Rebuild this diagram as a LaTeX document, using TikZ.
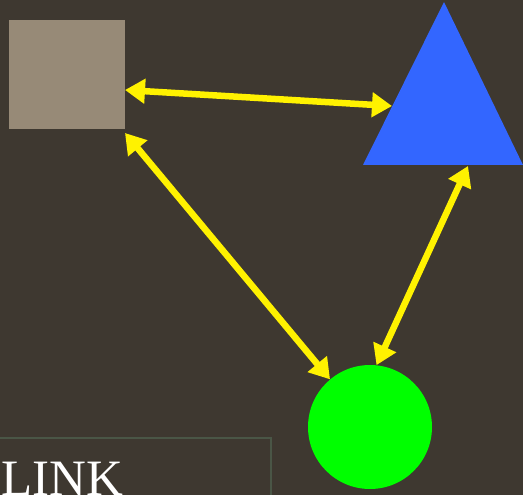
\documentclass[tikz,border=0pt]{standalone}
\usepackage{fontspec}
\setmainfont{Liberation Serif}
\usetikzlibrary{arrows.meta}
\definecolor{bg}{HTML}{3E3830}
\definecolor{sq}{HTML}{978A77}
\definecolor{tri}{HTML}{3366FF}
\definecolor{boxline}{HTML}{4A5646}
\tikzset{
  link/.style={draw=yellow, line width=6.5pt, {Triangle[length=20pt,width=24pt]}-{Triangle[length=20pt,width=24pt]}},
}
\begin{document}
\begin{tikzpicture}[x=1pt,y=-1pt]
\fill[bg] (0,0) rectangle (523,495);
\useasboundingbox (0,0) rectangle (523,495);
% text box
\draw[boxline, line width=2pt] (-10,438) -- (271,438) -- (271,510);
\node[anchor=base west, inner sep=0pt, text=white, font=\fontsize{51}{53}\selectfont] (lbl) at (1,495) {LINK};
% shapes
\node[fill=sq, minimum width=116pt, minimum height=109pt, inner sep=0pt, anchor=north west] (sqr) at (9,20) {};
\fill[tri] (444,2) coordinate (tA) -- (363,165) coordinate (tL) -- (523,165) coordinate (tR) -- cycle;
\node[fill=green, circle, minimum size=124pt, inner sep=0pt] (circ) at (370,427) {};
% connector endpoints
\coordinate (a1) at (125,90);
\coordinate (b1) at (392,106);
\coordinate (a2) at (125,133);
\coordinate (a3) at (468,166);
\draw[link] (a1) -- (b1);
\draw[link] (a2) -- (circ.130);
\draw[link] (a3) -- (circ.84);
\end{tikzpicture}
\end{document}
